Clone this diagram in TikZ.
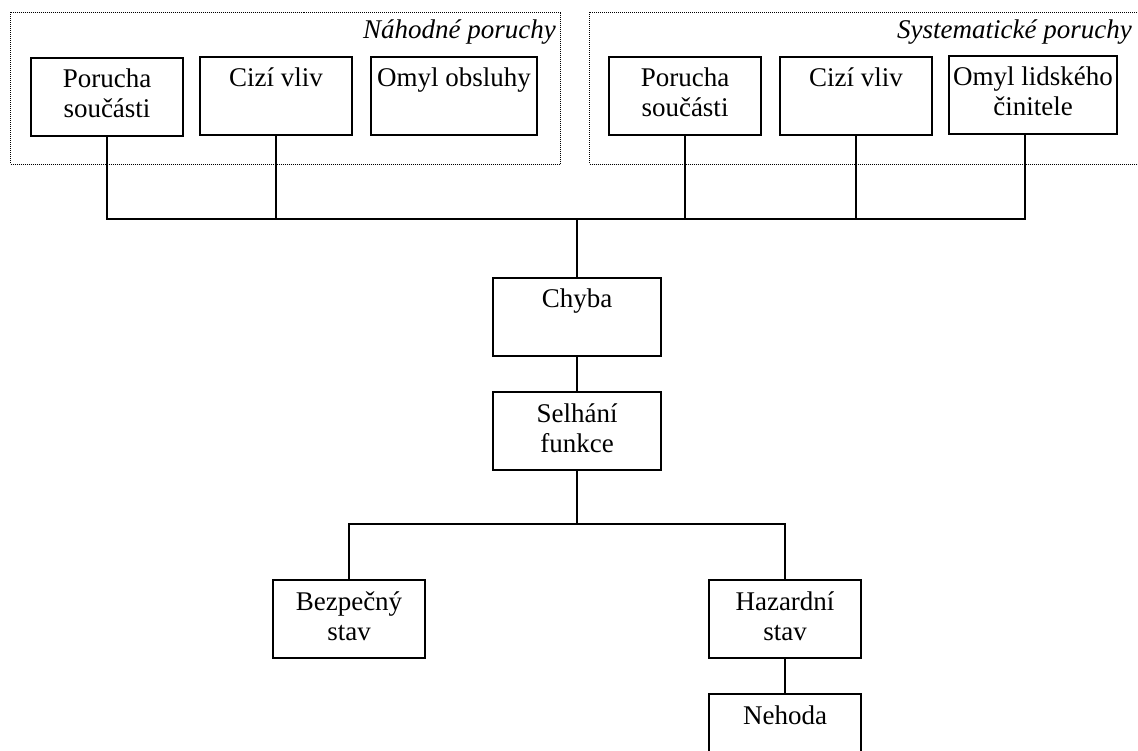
\documentclass[tikz,border=0pt]{standalone}
\usepackage{fontspec}
\setmainfont{Liberation Serif}
\begin{document}
\begin{tikzpicture}[x=1pt,y=-1pt,
  box/.style={draw,line width=2pt,inner sep=0pt,anchor=north,align=flush center,
    text width=#1,text height=30pt,text depth=48pt,
    font=\fontsize{27}{30}\selectfont},
  box/.default=152pt,
  grp/.style={draw,line width=0.8pt,dash pattern=on 1pt off 1pt},
  conn/.style={line width=2pt},
  tag/.style={anchor=base east,inner sep=0pt,font=\fontsize{27}{30}\selectfont\itshape}]
\useasboundingbox (0,0) rectangle (1138,751);
\draw[grp] (10.5,12.5) rectangle (560.5,164.5);
\draw[grp] (589.5,12.5) rectangle (1150,164.5);
\node[tag] (nahodne) at (556,39) {Náhodné poruchy};
\node[tag] (systematicke) at (1132,39) {Systematické poruchy};
\node[box] (porL) at (107,57) {Porucha\\součásti};
\node[box] (ciziL) at (276,56) {Cizí vliv};
\node[box=166pt] (omylL) at (454,56) {Omyl obsluhy};
\node[box] (porR) at (685,56) {Porucha\\součásti};
\node[box] (ciziR) at (856,56) {Cizí vliv};
\node[box=168pt] (omylR) at (1033,55) {Omyl lidského\\činitele};
\node[box=168pt] (chyba) at (577,277) {Chyba};
\node[box=168pt] (selhani) at (577,391) {Selhání\\funkce};
\node[box] (bezpecny) at (349,579) {Bezpečný\\stav};
\node[box] (hazard) at (785,579) {Hazardní\\stav};
\node[box] (nehoda) at (785,693) {Nehoda};
\coordinate (bus) at (577,219);
\coordinate (fork) at (577,524);
\coordinate (omylRc) at ([xshift=-8pt]omylR.south);
\draw[conn] (porL.south) |- (bus) -| (omylRc);
\foreach \n in {ciziL,porR,ciziR}
  \draw[conn] (\n.south) -- (\n.south |- bus);
\draw[conn] (bus) -- (chyba.north) (chyba.south) -- (selhani.north);
\draw[conn] (selhani.south) -- (fork);
\draw[conn] (bezpecny.north) |- (fork) -| (hazard.north);
\draw[conn] (hazard.south) -- (nehoda.north);
\end{tikzpicture}
\end{document}
